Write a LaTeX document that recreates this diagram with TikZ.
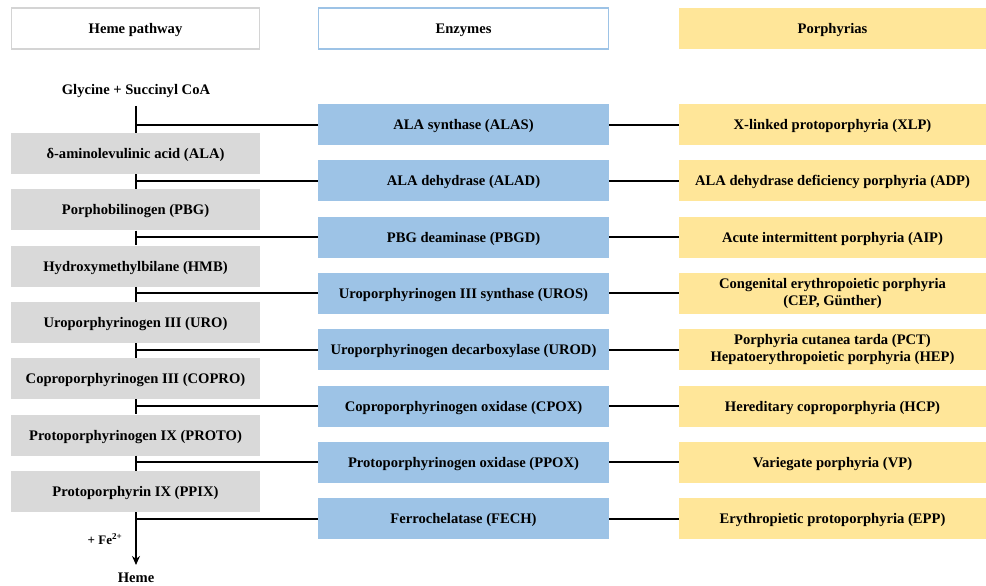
\documentclass[tikz,border=0pt]{standalone}
\usepackage{fontspec}
\setmainfont{Liberation Serif}
\usetikzlibrary{arrows.meta}
\definecolor{boxgrey}{HTML}{D9D9D9}
\definecolor{boxblue}{HTML}{9DC3E6}
\definecolor{boxyellow}{HTML}{FFE699}
\definecolor{hdrgrey}{HTML}{D4D4D4}
\begin{document}
\begin{tikzpicture}[x=1pt,y=-1pt,
  every node/.style={font=\fontsize{14.6}{16.5}\selectfont\bfseries, inner sep=0pt, align=center},
  oneline/.style={text depth=0pt},
  hdr/.style={oneline, minimum height=41pt, line width=1.2pt},
  metab/.style={oneline, fill=boxgrey, minimum width=249pt, minimum height=41pt},
  enz/.style={oneline, fill=boxblue, minimum width=291pt, minimum height=41pt},
  por/.style={fill=boxyellow, minimum width=307pt, minimum height=41pt},
  link/.style={line width=2pt}]
\useasboundingbox (0,0) rectangle (986,586);
% headers
\node[hdr, draw=hdrgrey, fill=white, minimum width=248pt] (h1) at (135.5,28.5) {Heme pathway};
\node[hdr, draw=boxblue, fill=white, minimum width=290pt] (h2) at (463.5,28.5) {Enzymes};
\node[hdr, fill=boxyellow, minimum width=307pt] (h3) at (832.5,28.5) {Porphyrias};
% start
\node (gly) at (136,91) {Glycine + Succinyl CoA};
\coordinate (g0) at (136,106);
% metabolites
\node[metab] (m1) at (135.5,153.5) {δ-aminolevulinic acid (ALA)};
\node[metab] (m2) at (135.5,209.8) {Porphobilinogen (PBG)};
\node[metab] (m3) at (135.5,266.1) {Hydroxymethylbilane (HMB)};
\node[metab] (m4) at (135.5,322.4) {Uroporphyrinogen III (URO)};
\node[metab] (m5) at (135.5,378.7) {Coproporphyrinogen III (COPRO)};
\node[metab] (m6) at (135.5,435.0) {Protoporphyrinogen IX (PROTO)};
\node[metab] (m7) at (135.5,491.3) {Protoporphyrin IX (PPIX)};
% enzymes
\node[enz] (e1) at (463.5,124.5) {ALA synthase (ALAS)};
\node[enz] (e2) at (463.5,180.8) {ALA dehydrase (ALAD)};
\node[enz] (e3) at (463.5,237.1) {PBG deaminase (PBGD)};
\node[enz] (e4) at (463.5,293.4) {Uroporphyrinogen III synthase (UROS)};
\node[enz] (e5) at (463.5,349.7) {Uroporphyrinogen decarboxylase (UROD)};
\node[enz] (e6) at (463.5,406.0) {Coproporphyrinogen oxidase (CPOX)};
\node[enz] (e7) at (463.5,462.3) {Protoporphyrinogen oxidase (PPOX)};
\node[enz] (e8) at (463.5,518.6) {Ferrochelatase (FECH)};
% porphyrias
\node[por, oneline] (p1) at (832.5,124.5) {X-linked protoporphyria (XLP)};
\node[por, oneline] (p2) at (832.5,180.8) {ALA dehydrase deficiency porphyria (ADP)};
\node[por, oneline] (p3) at (832.5,237.1) {Acute intermittent porphyria (AIP)};
\node[por] (p4) at (832.5,293.4) {Congenital erythropoietic porphyria\\(CEP, Günther)};
\node[por] (p5) at (832.5,349.7) {Porphyria cutanea tarda (PCT)\\Hepatoerythropoietic porphyria (HEP)};
\node[por, oneline] (p6) at (832.5,406.0) {Hereditary coproporphyria (HCP)};
\node[por, oneline] (p7) at (832.5,462.3) {Variegate porphyria (VP)};
\node[por, oneline] (p8) at (832.5,518.6) {Erythropietic protoporphyria (EPP)};
% end
\node (heme) at (136,578) {Heme};
\node[font=\fontsize{13}{15}\selectfont\bfseries] (fe) at (105,539) {+ Fe\textsuperscript{2+}};
% main pathway segments
\draw[link] (g0) -- (m1.north -| g0);
\draw[link] (m1.south -| g0) -- (m2.north -| g0);
\draw[link] (m2.south -| g0) -- (m3.north -| g0);
\draw[link] (m3.south -| g0) -- (m4.north -| g0);
\draw[link] (m4.south -| g0) -- (m5.north -| g0);
\draw[link] (m5.south -| g0) -- (m6.north -| g0);
\draw[link] (m6.south -| g0) -- (m7.north -| g0);
\draw[link, -{Stealth[length=9pt,width=8pt]}] (m7.south -| g0) -- ([yshift=8pt]heme.north);
% enzyme branches
\foreach \i in {1,...,8} {
  \draw[link] (e\i.west) -- (e\i.west -| g0);
  \draw[link] (e\i.east) -- (p\i.west);
}
\end{tikzpicture}
\end{document}
